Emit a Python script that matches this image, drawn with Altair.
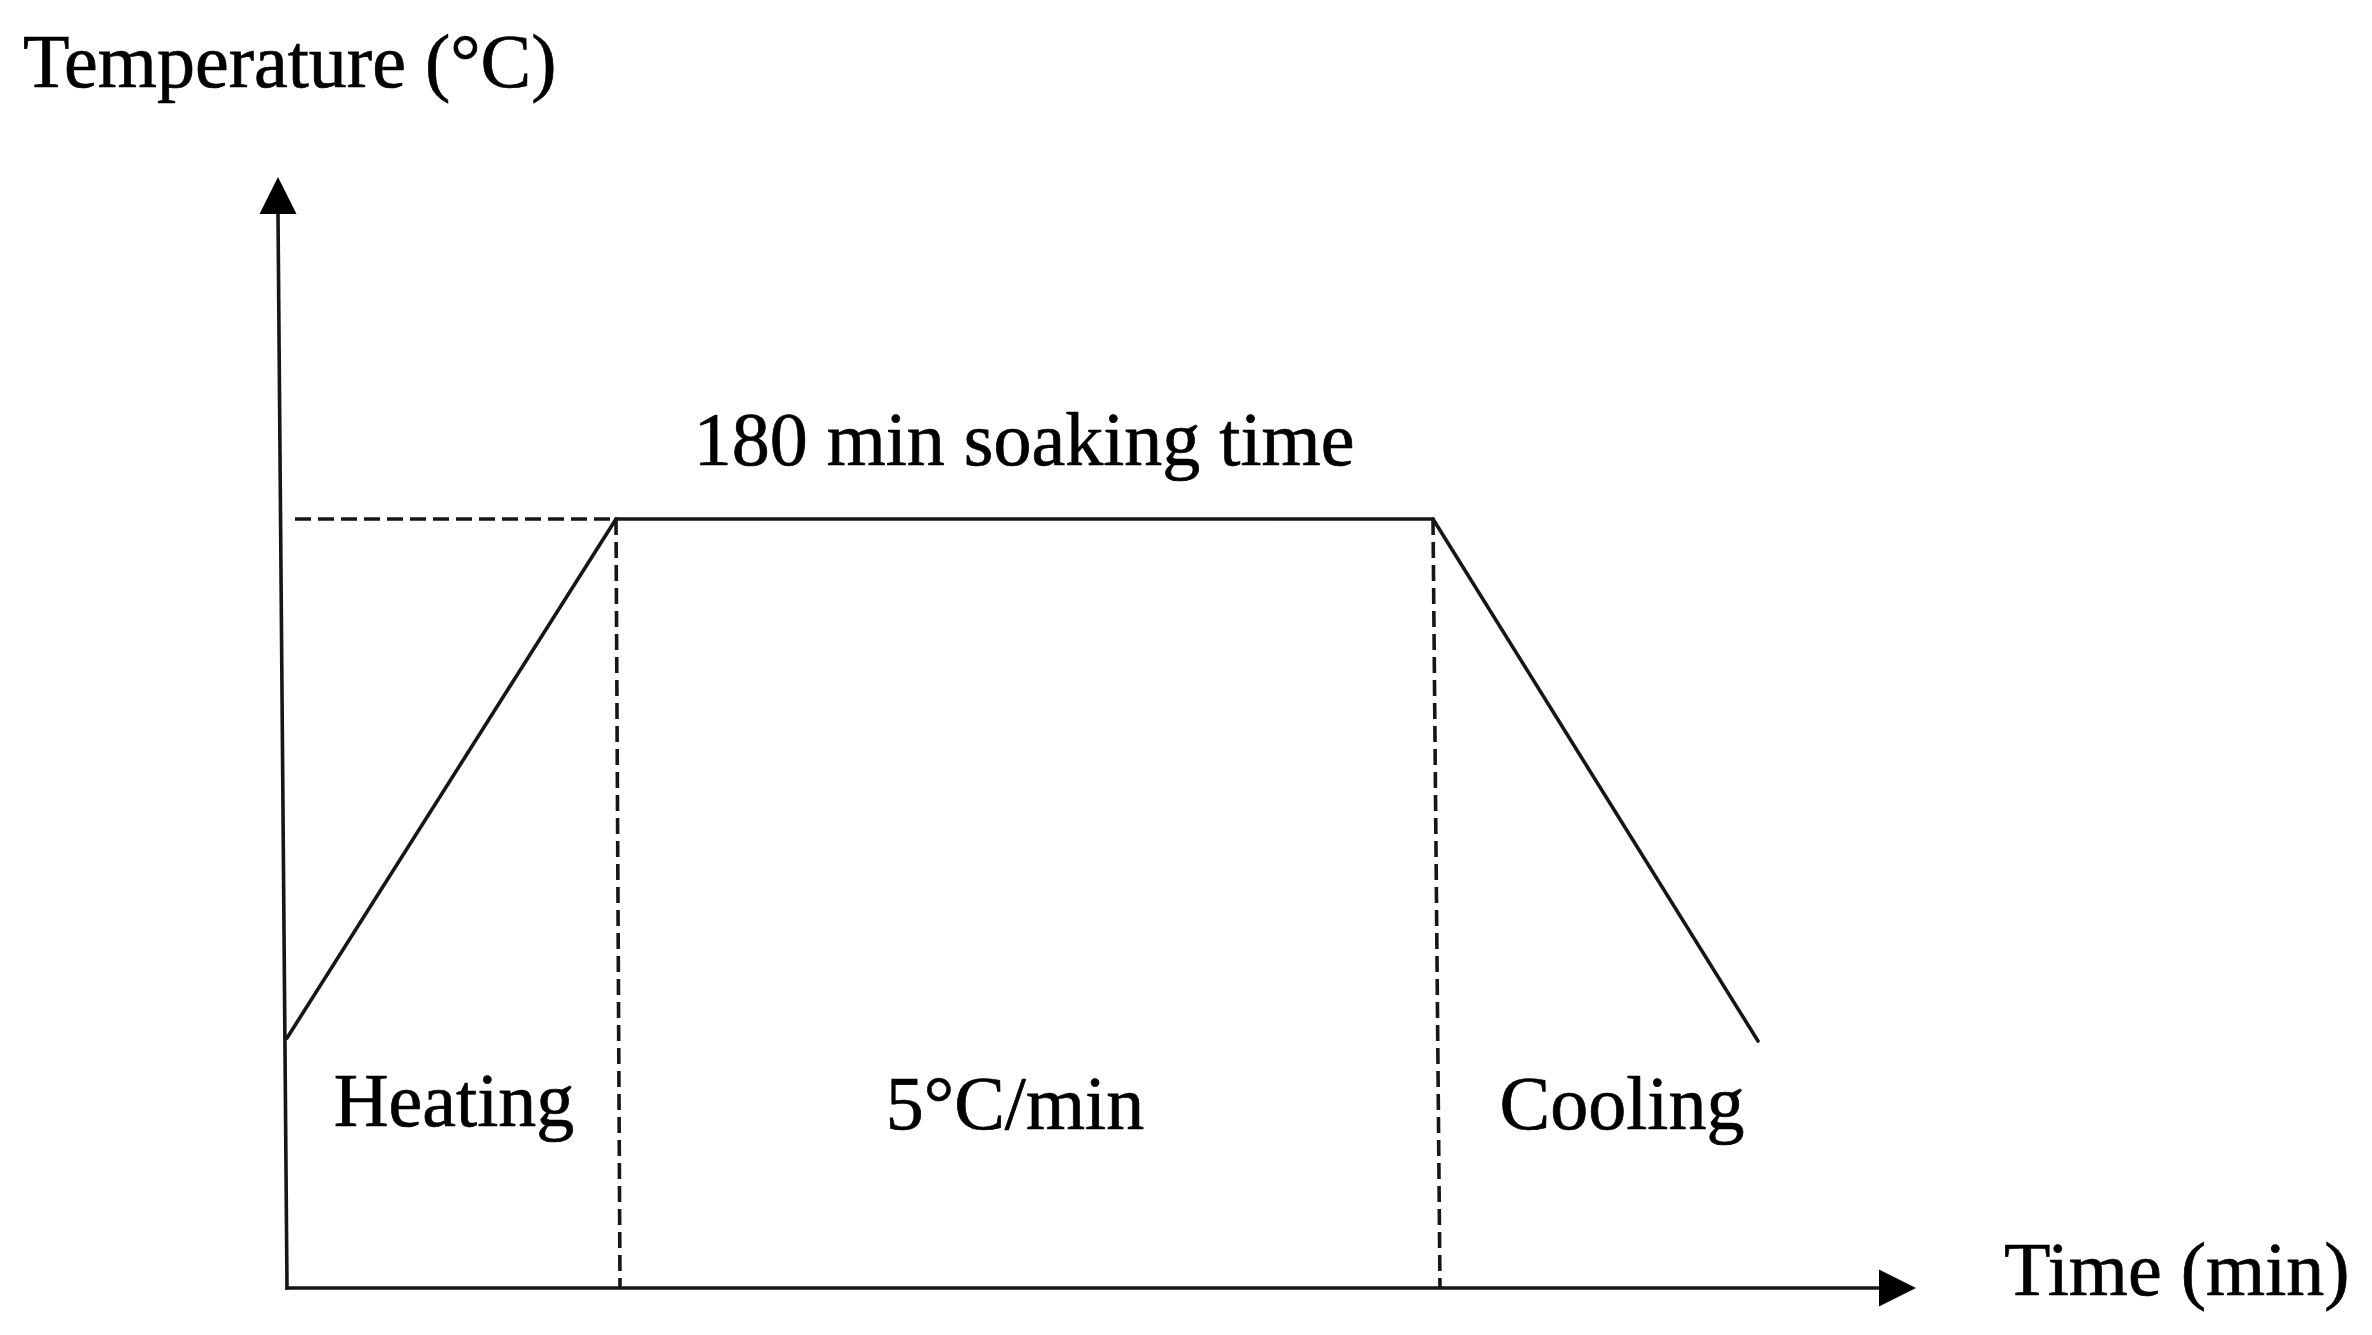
import altair as alt
import pandas as pd

# Schematic units: origin of the time/temperature axes is (0, 0)
# Solid profile: heating ramp, 180 min soak plateau, cooling ramp
profile_time = [0, 329, 1146, 1471]
profile_temp = [250, 769, 769, 247]

# Axes lines (start -> end at arrow base)
axis_x1 = [0, 0]
axis_y1 = [0, 0]
axis_x2 = [-9, 1592]
axis_y2 = [1074, 0]

# Dashed guide lines
dash_x1 = [8, 329, 1146]
dash_y1 = [769, 769, 769]
dash_x2 = [329, 333, 1153]
dash_y2 = [769, 0, 0]

# Arrow heads (base positions) and orientation
arrow_x = [-9, 1592]
arrow_y = [1074, 0]
arrow_angle = [0, 90]

# Text labels
center_labels = ["180 min soaking time", "Heating", "5°C/min", "Cooling"]
center_x = [737, 167, 728, 1335]
center_y = [823, 162, 159, 159]
left_labels = ["Temperature (°C)", "Time (min)"]
left_x = [-264, 1717]
left_y = [1201, -7]

XDOM = [-279, 2077]
YDOM = [-39, 1280]
xs = alt.Scale(domain=XDOM, nice=False, zero=False)
ys = alt.Scale(domain=YDOM, nice=False, zero=False)

INK = "#161616"
FONT = "Liberation Serif"
FS = 76

prof = pd.DataFrame({
    "x": profile_time[:-1], "y": profile_temp[:-1],
    "x2": profile_time[1:], "y2": profile_temp[1:],
})
axes = pd.DataFrame({"x": axis_x1, "y": axis_y1, "x2": axis_x2, "y2": axis_y2})
dashes = pd.DataFrame({"x": dash_x1, "y": dash_y1, "x2": dash_x2, "y2": dash_y2})
arrows = pd.DataFrame({"x": arrow_x, "y": arrow_y, "a": arrow_angle})
ctext = pd.DataFrame({"t": center_labels, "x": center_x, "y": center_y})
ltext = pd.DataFrame({"t": left_labels, "x": left_x, "y": left_y})


def rule_layer(df, cap="butt", **kw):
    return alt.Chart(df).mark_rule(color=INK, strokeWidth=3.6, strokeCap=cap, **kw).encode(
        x=alt.X("x:Q", scale=xs, axis=None),
        y=alt.Y("y:Q", scale=ys, axis=None),
        x2="x2:Q",
        y2="y2:Q",
    )


solid = rule_layer(prof, cap="round")
axis_lines = rule_layer(axes, cap="square")
dashed = rule_layer(dashes, strokeDash=[16, 7])

arrow_heads = alt.Chart(arrows).mark_point(
    shape="M0,-1L-0.5,0L0.5,0Z", filled=True, size=5476, color="#000000", opacity=1, strokeWidth=0
).encode(
    x=alt.X("x:Q", scale=xs, axis=None),
    y=alt.Y("y:Q", scale=ys, axis=None),
    angle=alt.Angle("a:Q", scale=None),
)

text_style = dict(font=FONT, fontSize=FS, baseline="alphabetic", color="#000000",
                  stroke="#000000", strokeWidth=0.7)

center_text = alt.Chart(ctext).mark_text(align="center", **text_style).encode(
    x=alt.X("x:Q", scale=xs, axis=None),
    y=alt.Y("y:Q", scale=ys, axis=None),
    text="t:N",
)

left_text = alt.Chart(ltext).mark_text(align="left", **text_style).encode(
    x=alt.X("x:Q", scale=xs, axis=None),
    y=alt.Y("y:Q", scale=ys, axis=None),
    text="t:N",
)

chart = alt.layer(
    dashed, axis_lines, solid, arrow_heads, center_text, left_text
).properties(
    width=2356, height=1319,
    autosize=alt.AutoSizeParams(type="fit", contains="padding"),
    padding=0,
    background="white",
).configure_view(stroke=None)

chart.save("out.html", embed_options={"renderer": "svg", "actions": False})
